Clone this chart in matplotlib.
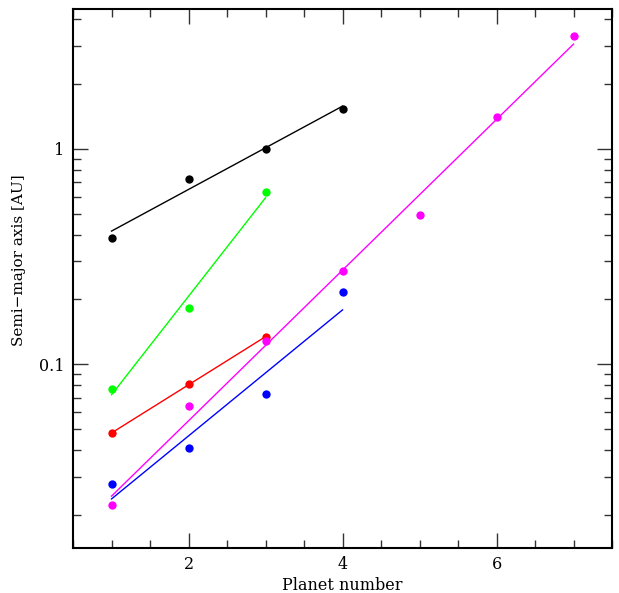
import matplotlib.pyplot as plt
import numpy as np
from matplotlib.ticker import MultipleLocator, FixedLocator, NullFormatter, LogLocator

plt.rcParams['font.family'] = ['DejaVu Serif']

# planet number and semi-major axis [AU] for each system
x_black = [1, 2, 3, 4]
a_black = [0.387, 0.723, 1.0, 1.53]

x_green = [1, 2, 3]
a_green = [0.0768, 0.183, 0.63]

x_red = [1, 2, 3]
a_red = [0.0479, 0.0808, 0.134]

x_blue = [1, 2, 3, 4]
a_blue = [0.0279, 0.0409, 0.0728, 0.217]

x_magenta = [1, 2, 3, 4, 5, 6, 7]
a_magenta = [0.0223, 0.0641, 0.1286, 0.270, 0.493, 1.41, 3.32]

systems = [
    (x_black, a_black, 'black'),
    (x_green, a_green, '#00ff00'),
    (x_red, a_red, 'red'),
    (x_blue, a_blue, 'blue'),
    (x_magenta, a_magenta, 'magenta'),
]

fig = plt.figure(figsize=(6.19, 5.93), dpi=100)
ax = fig.add_axes([0.118, 0.0764, 0.8707, 0.9084])

for xs, ys, c in systems:
    xs = np.array(xs, dtype=float)
    ys = np.array(ys, dtype=float)
    # exponential fit (straight line in log space)
    k, b = np.polyfit(xs, np.log10(ys), 1)
    xf = np.array([xs.min(), xs.max()])
    ax.plot(xf, 10 ** (k * xf + b), '-', color=c, linewidth=1.0)
    ax.plot(xs, ys, 'o', color=c, markersize=6, markeredgewidth=0)

ax.set_yscale('log')
ax.set_xlim(0.5, 7.5)
ax.set_ylim(0.0141, 4.45)

ax.xaxis.set_major_locator(FixedLocator([2, 4, 6]))
ax.xaxis.set_minor_locator(MultipleLocator(0.5))
ax.yaxis.set_major_locator(FixedLocator([0.1, 1]))
ax.yaxis.set_minor_locator(LogLocator(base=10, subs=np.arange(2, 10)))
ax.yaxis.set_minor_formatter(NullFormatter())
ax.set_yticklabels(['0.1', '1'])

ax.tick_params(which='both', direction='in', top=True, right=True, width=1.0,
               labelsize=11.5, color='#333333')
ax.tick_params(which='major', length=11, pad=6)
ax.tick_params(which='minor', length=5.5)

for sp in ax.spines.values():
    sp.set_linewidth(1.5)

ax.set_xlabel('Planet number', fontsize=11.5, labelpad=3)
ax.set_ylabel('Semi\u2212major axis [AU]', fontsize=11)
ax.yaxis.set_label_coords(-0.088, 0.534)

fig.savefig('out.png', dpi=100, facecolor='white')
